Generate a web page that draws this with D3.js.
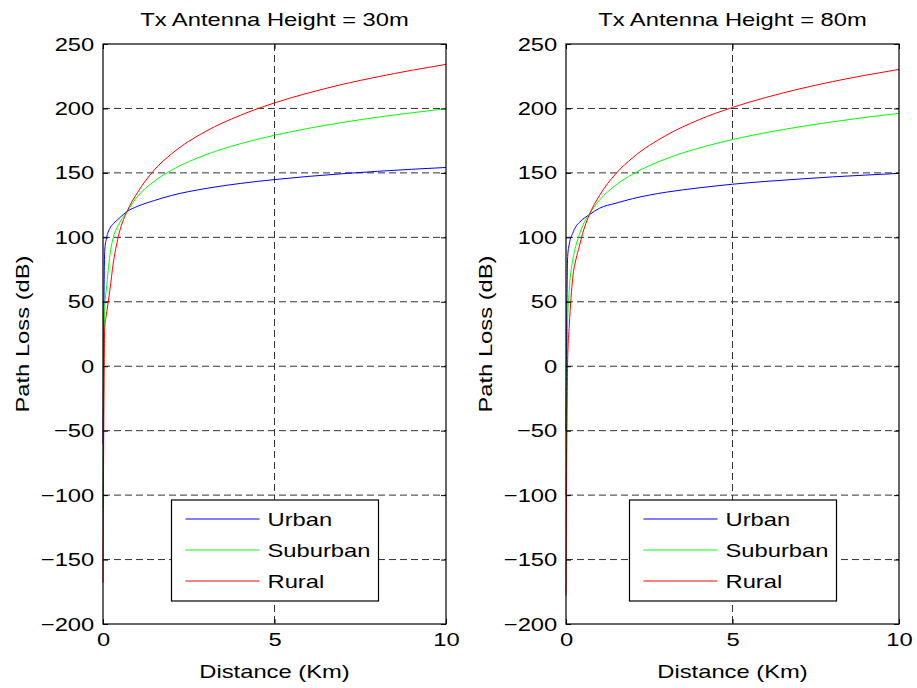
<!DOCTYPE html>
<html>
<head>
<meta charset="utf-8">
<title>Path Loss vs Distance</title>
<style>
  body { margin: 0; background: #fff; }
  svg text { font-family: Arial, "Liberation Sans", sans-serif; fill: #000; }
</style>
</head>
<body>
<svg width="917" height="688"></svg>
<script src="https://cdn.jsdelivr.net/npm/d3@7"></script>
<script>
  // distances (km) where the curves were read
  var distances = [0, 0.05, 0.1, 0.2, 0.3, 0.4, 0.5, 0.7, 1, 1.5, 2, 3, 4, 5, 6, 7, 8, 9, 10];

  // Tx height 30 m
  var urban30    = [-60, 90, 99, 107, 110.5, 113, 115.5, 120, 124, 128.6, 132.5, 137.9, 141.8, 144.8, 147.3, 149.4, 151.2, 152.8, 154.2];
  var suburban30 = [-110, 45, 60, 86, 100, 107, 112, 120, 131.6, 143.6, 152.1, 164.1, 172.6, 179.2, 184.6, 189.2, 193.2, 196.6, 199.8];
  var rural30    = [-168, 30, 40, 59, 80, 95, 106, 120, 134.5, 152.4, 164.8, 182.3, 194.6, 204.3, 212.1, 218.8, 224.5, 229.6, 234.2];

  // Tx height 80 m
  var urban80    = [-50, 85, 95, 103, 108.5, 111.5, 114, 117.5, 122.5, 126.5, 130, 135, 138.4, 141.2, 143.4, 145.2, 146.9, 148.3, 149.6];
  var suburban80 = [-100, 35, 60, 82, 94, 102, 109, 118, 128.7, 140.6, 149, 160.9, 169.3, 175.9, 181.2, 185.7, 189.6, 193.1, 196.2];
  var rural80    = [-178, 5, 32, 68, 83, 93, 103, 117.5, 132.2, 149.5, 161.7, 179, 191.3, 200.8, 208.5, 215.1, 220.8, 225.8, 230.3];

  var seriesNames = ["Urban", "Suburban", "Rural"];
  var seriesColors = ["#0000ff", "#00ff00", "#ff0000"];
  var xTicks = [0, 5, 10];
  var yTicks = [-200, -150, -100, -50, 0, 50, 100, 150, 200, 250];

  var svg = d3.select("svg");
  var fs = "19px", sx = 1.25;   // reference glyphs are wider than Arial

  // text drawn at (px,py), stretched along its own direction
  function label(sel, str, px, py, anchor, rot) {
    return sel.append("text")
      .attr("transform", "translate(" + px + "," + py + ")" + (rot ? " rotate(" + rot + ")" : "") + " scale(" + sx + ",1)")
      .attr("text-anchor", anchor)
      .style("font-size", fs)
      .text(str);
  }

  var panels = [
    { title: "Tx Antenna Height = 30m", left: 103, right: 446, data: [urban30, suburban30, rural30] },
    { title: "Tx Antenna Height = 80m", left: 566, right: 899, data: [urban80, suburban80, rural80] }
  ];
  var plotTop = 44, plotBottom = 624;

  panels.forEach(function (p) {
    var x = d3.scaleLinear().domain([0, 10]).range([p.left, p.right]);
    var y = d3.scaleLinear().domain([-200, 250]).range([plotBottom, plotTop]);
    var g = svg.append("g");

    // grid
    g.append("g").selectAll("line")
      .data(yTicks.slice(1, -1))
      .enter().append("line")
      .attr("x1", p.left).attr("x2", p.right)
      .attr("y1", function (d) { return y(d); }).attr("y2", function (d) { return y(d); })
      .attr("stroke", "#333").attr("stroke-dasharray", "7,4").attr("stroke-width", 1);
    g.append("line")
      .attr("x1", x(5)).attr("x2", x(5)).attr("y1", plotTop).attr("y2", plotBottom)
      .attr("stroke", "#333").attr("stroke-dasharray", "7,4").attr("stroke-width", 1);

    // curves
    var line = d3.line()
      .x(function (d, i) { return x(distances[i]); })
      .y(function (d) { return y(d); })
      .curve(d3.curveMonotoneX);
    p.data.forEach(function (vals, k) {
      g.append("path")
        .datum(vals)
        .attr("d", line)
        .attr("fill", "none")
        .attr("stroke", seriesColors[k])
        .attr("stroke-width", 1);
    });

    // axes (ticks inside, box)
    g.append("g").attr("transform", "translate(0," + plotBottom + ")")
      .call(d3.axisBottom(x).tickValues(xTicks).tickSizeInner(-5).tickSizeOuter(0).tickPadding(9))
      .call(function (a) { a.select(".domain").remove(); });
    g.append("g").attr("transform", "translate(0," + plotTop + ")")
      .call(d3.axisTop(x).tickValues(xTicks).tickSizeInner(-5).tickSizeOuter(0).tickFormat(""))
      .call(function (a) { a.select(".domain").remove(); });
    g.append("g").attr("transform", "translate(" + p.left + ",0)")
      .call(d3.axisLeft(y).tickValues(yTicks).tickSizeInner(-5).tickSizeOuter(0).tickPadding(7))
      .call(function (a) { a.select(".domain").remove(); });
    g.append("g").attr("transform", "translate(" + p.right + ",0)")
      .call(d3.axisRight(y).tickValues(yTicks).tickSizeInner(-5).tickSizeOuter(0).tickFormat(""))
      .call(function (a) { a.select(".domain").remove(); });
    g.selectAll(".tick line").attr("stroke", "#000");
    g.selectAll(".tick text")
      .attr("fill", "#000")
      .attr("font-family", "Arial, 'Liberation Sans', sans-serif")
      .attr("font-size", fs)
      .attr("transform", "scale(" + sx + ",1)");

    g.append("rect")
      .attr("x", p.left).attr("y", plotTop)
      .attr("width", p.right - p.left).attr("height", plotBottom - plotTop)
      .attr("fill", "none").attr("stroke", "#000").attr("stroke-width", 1.2);

    // labels
    var cx = (p.left + p.right) / 2;
    label(g, p.title, cx, 26, "middle");
    label(g, "Distance (Km)", cx, 678, "middle");
    label(g, "Path Loss (dB)", p.left - 74, (plotTop + plotBottom) / 2, "middle", -90);

    // legend
    var lg = g.append("g").attr("transform", "translate(" + (cx - 103) + ",500)");
    lg.append("rect").attr("width", 207).attr("height", 101)
      .attr("fill", "#fff").attr("stroke", "#000").attr("stroke-width", 1.2);
    seriesNames.forEach(function (name, k) {
      var ry = 19 + k * 31;
      lg.append("line").attr("x1", 14).attr("x2", 88).attr("y1", ry).attr("y2", ry)
        .attr("stroke", seriesColors[k]).attr("stroke-width", 1);
      label(lg, name, 96, ry + 7, "start");
    });
  });
</script>
</body>
</html>
